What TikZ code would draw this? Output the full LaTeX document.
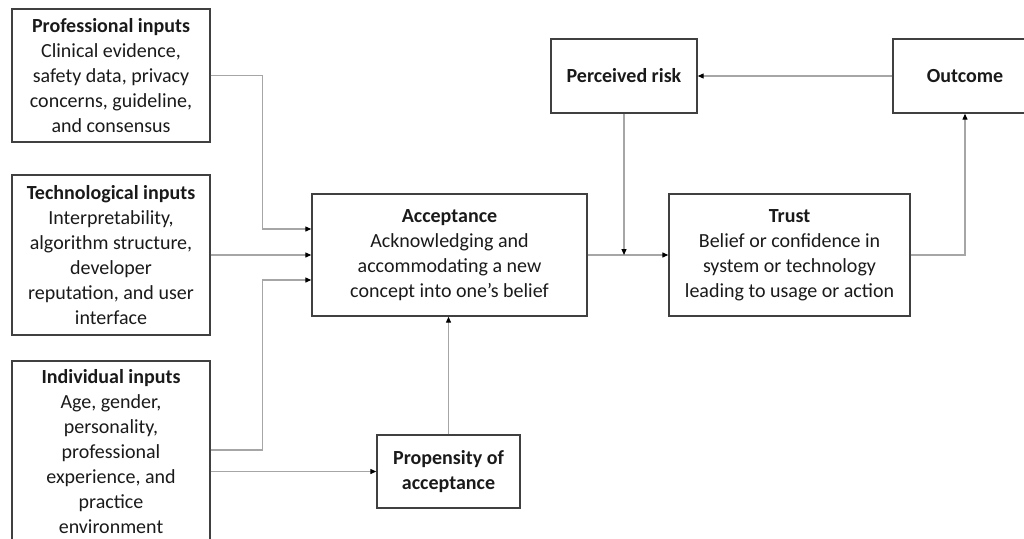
\documentclass[tikz,border=0pt]{standalone}
\usepackage{fontspec}
\setmainfont{Carlito}
\usetikzlibrary{arrows.meta}
\definecolor{txt}{HTML}{1A1A1A}
\definecolor{edge}{HTML}{404040}
\definecolor{wire}{HTML}{A6A6A6}
\tikzset{
  box/.style={draw=edge, line width=1.4pt, text=txt, align=center, inner sep=0pt,
    font=\fontsize{20}{25}\selectfont},
  link/.style={draw=wire, line width=1.2pt, -{Triangle[length=6pt,width=5pt,color=black]}}
}
\begin{document}
\begin{tikzpicture}[x=1pt,y=-1pt]
\useasboundingbox (0,0) rectangle (1024,538);
\clip (0,0) rectangle (1024,538);
% inputs on the left
\node[box, minimum width=198, minimum height=133] (prof) at (111,75.5)
  {\textbf{Professional inputs}\\Clinical evidence,\\safety data, privacy\\concerns, guideline,\\and consensus};
\node[box, minimum width=198, minimum height=160] (tech) at (111,255)
  {\textbf{Technological inputs}\\Interpretability,\\algorithm structure,\\developer\\reputation, and user\\interface};
\node[box, minimum width=198, minimum height=182] (indiv) at (111,452)
  {\textbf{Individual inputs}\\Age, gender,\\personality,\\professional\\experience, and\\practice\\environment};
% middle
\node[box, minimum width=275, minimum height=122] (acc) at (449.5,255)
  {\textbf{Acceptance}\\Acknowledging and\\accommodating a new\\concept into one’s belief};
\node[box, minimum width=143, minimum height=73] (prop) at (448.5,471.5)
  {\textbf{Propensity of}\\\textbf{acceptance}};
% right
\node[box, minimum width=241, minimum height=122] (trust) at (789.5,255)
  {\textbf{Trust}\\Belief or confidence in\\system or technology\\leading to usage or action};
\node[box, minimum width=146, minimum height=74] (risk) at (624,76)
  {\textbf{Perceived risk}};
\node[box, minimum width=144, minimum height=74] (outc) at (965,76)
  {\textbf{Outcome}};
% lines
\draw[link] (prof.east) -- ++(52,0) |- ([yshift=26pt]acc.west);
\draw[link] (tech.east) -- (acc.west);
\draw[link] ([yshift=2pt]indiv.east) -- ++(52,0) |- ([yshift=-25pt]acc.west);
\draw[link] (indiv.east |- prop.west) -- (prop.west);
\draw[link] (prop.north) -- (prop.north |- acc.south);
\draw[link] (acc.east) -- (trust.west);
\draw[link] (risk.south) -- (risk.south |- acc.east);
\draw[link] (trust.east) -| (outc.south);
\draw[link] (outc.west) -- (risk.east);
\end{tikzpicture}
\end{document}
